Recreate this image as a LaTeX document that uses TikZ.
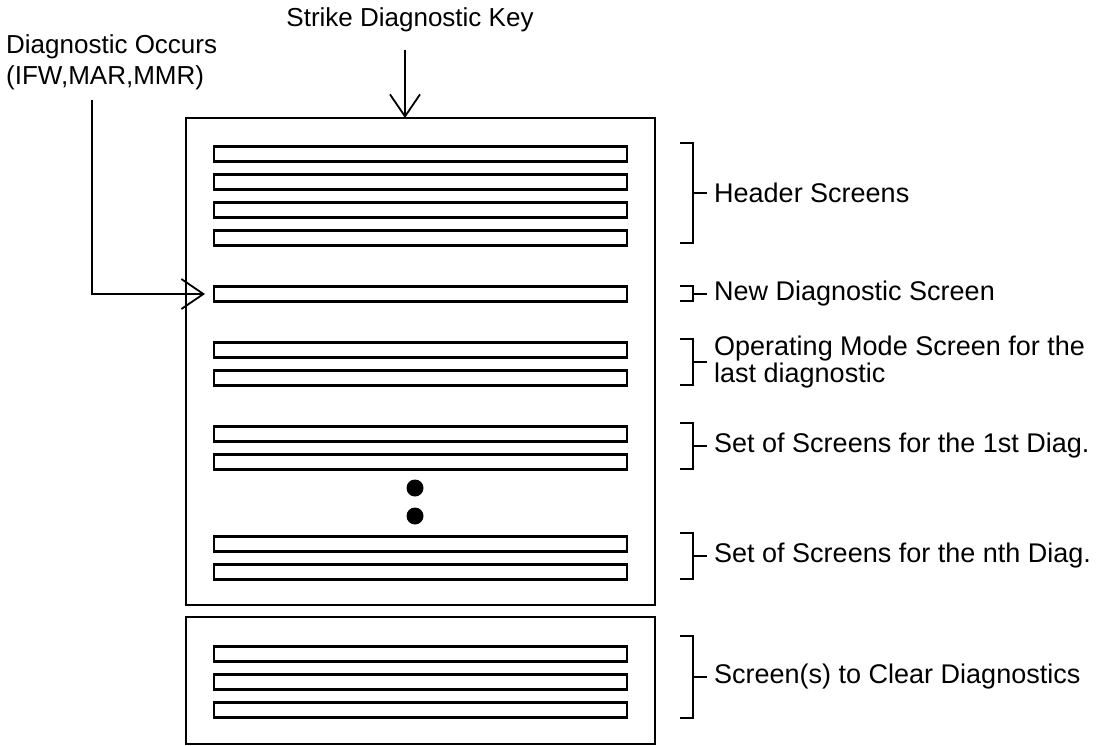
\documentclass[tikz,border=0pt]{standalone}
\usepackage{fontspec}
\setmainfont{Liberation Sans}
\usetikzlibrary{arrows.meta}
\newcommand{\mybrack}[4]{%
  \node[lbl] (#1) at (714,{(#2+#3)/2}) {#4};
  \draw[brk] (680,#2) -- (693,#2) -- (693,#3) -- (680,#3);
  \draw[brk] (693,{(#2+#3)/2}) -- ([xshift=-7pt]#1.west);
}
\begin{document}
\begin{tikzpicture}[x=1pt,y=-1pt,
  screen/.style={draw,line width=2.4pt,minimum width=413pt,minimum height=15pt,inner sep=0pt,outer sep=0pt},
  panel/.style={draw,line width=1.6pt,inner sep=0pt,outer sep=0pt},
  lbl/.style={font=\fontsize{27}{21}\selectfont,inner sep=0pt,anchor=west,align=left},
  brk/.style={line width=2pt},
  dot/.style={circle,fill,minimum size=17pt,inner sep=0pt},
  arr/.style={line width=1.8pt,-{Straight Barb[length=22pt,width=30pt,line width=1.8pt]}}]
\useasboundingbox (0,0) rectangle (1116,746);
% panels
\node[panel,minimum width=469pt,minimum height=487pt] (box1) at (420.5,361.5) {};
\node[panel,minimum width=469pt,minimum height=127pt] (box2) at (420.5,680.5) {};
% header screens
\node[screen] (h1) at (420.5,154) {};
\node[screen] (h2) at (420.5,182) {};
\node[screen] (h3) at (420.5,210) {};
\node[screen] (h4) at (420.5,238) {};
% new diagnostic
\node[screen] (nd) at (420.5,294) {};
% operating mode
\node[screen] (o1) at (420.5,350) {};
\node[screen] (o2) at (420.5,378) {};
% first diag
\node[screen] (f1) at (420.5,434) {};
\node[screen] (f2) at (420.5,462) {};
% dots
\node[dot] (d1) at (415,488) {};
\node[dot] (d2) at (415,516) {};
% nth diag
\node[screen] (n1) at (420.5,544) {};
\node[screen] (n2) at (420.5,572) {};
% clear screens
\node[screen] (c1) at (420.5,654) {};
\node[screen] (c2) at (420.5,682) {};
\node[screen] (c3) at (420.5,710) {};
% brackets and labels
\mybrack{lh}{143}{243}{Header Screens}
\mybrack{ln}{286}{301}{New Diagnostic Screen}
\mybrack{lo}{339}{385}{Operating Mode Screen for the\\last diagnostic}
\mybrack{lf}{423}{469}{Set of Screens for the 1st Diag.}
\mybrack{lnth}{533}{579}{Set of Screens for the nth Diag.}
\mybrack{lc}{636}{718}{Screen(s) to Clear Diagnostics}
% top labels and arrows
\node[lbl,anchor=center,font=\fontsize{26}{31}\selectfont] (strike) at (410,20) {Strike Diagnostic Key};
\node[lbl,anchor=north west,font=\fontsize{26}{31}\selectfont] (occ) at (6,34) {Diagnostic Occurs\\(IFW,MAR,MMR)};
\coordinate (sa) at (405,50);
\draw[arr] (sa) -- (sa |- box1.north);
\coordinate (oa) at (92,100);
\draw[arr] (oa) |- ([xshift=-9pt]nd.west);
\end{tikzpicture}
\end{document}
